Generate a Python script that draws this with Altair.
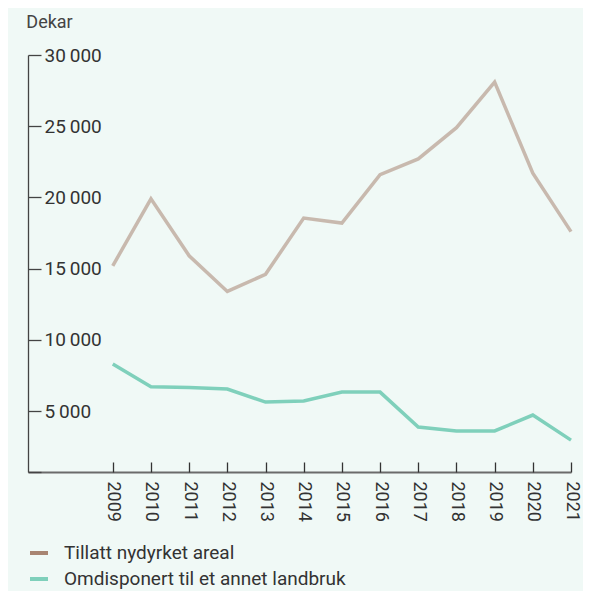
import altair as alt
import pandas as pd

years = list(range(2009, 2022))
tillatt = [15200, 19900, 15900, 13400, 14600, 18550, 18200, 21600, 22700, 24900, 28100, 21700, 17600]
omdisponert = [8300, 6700, 6650, 6550, 5630, 5700, 6330, 6330, 3880, 3600, 3600, 4720, 2960]
series_names = ["Tillatt nydyrket areal", "Omdisponert til et annet landbruk"]
legend_colors = ["#a88572", "#7fd0bb"]
y_ticks = [720, 5000, 10000, 15000, 20000, 25000, 30000]

rows = []
for name, vals in zip(series_names, [tillatt, omdisponert]):
    for yr, v in zip(years, vals):
        rows.append({"year": yr, "value": v, "series": name})
df = pd.DataFrame(rows)

W, H = 543, 417
FONT = "Roboto"
TXT = "#333333"

x_scale = alt.Scale(domain=[2006.78, 2021], nice=False, zero=False)
y_scale = alt.Scale(domain=[720, 30000], nice=False, zero=False)

y_axis = alt.Axis(
    orient="right", offset=-W, values=y_ticks,
    labelExpr="datum.value < 1000 ? '' : replace(format(datum.value, ','), ',', '\u2009')",
    tickSize=13, tickColor="#444444", tickWidth=1.3,
    domainColor="#444444", domainWidth=1.3,
    labelPadding=3, labelFontSize=19, labelFont=FONT, labelColor=TXT,
    grid=False, title=None,
)

lines = alt.Chart(df).mark_line(strokeWidth=3.5).encode(
    x=alt.X("year:Q", scale=x_scale, axis=alt.Axis(
        orient="bottom", values=years, format="d", ticks=False,
        labelAngle=90, labelAlign="left", labelBaseline="middle", labelPadding=9,
        labelFontSize=18, labelFont=FONT, labelColor=TXT,
        domainColor="#6b6b6b", domainWidth=2, grid=False, title=None)),
    y=alt.Y("value:Q", scale=y_scale, axis=y_axis),
    color=alt.Color("series:N", scale=alt.Scale(domain=series_names, range=legend_colors),
                    legend=alt.Legend(orient="none", legendX=0, legendY=487, title=None,
                                      symbolType="stroke", symbolSize=324, symbolStrokeWidth=4,
                                      symbolOpacity=1,
                                      labelFontSize=19, labelFont=FONT, labelLimit=0,
                                      labelColor=TXT, labelOffset=14, rowPadding=5,
                                      padding=0, direction="vertical")),
    opacity=alt.condition(f"datum.series == '{series_names[0]}'", alt.value(0.55), alt.value(1.0)),
)

ticks_layer = alt.Chart(df).mark_line(opacity=0).encode(
    x=alt.X("year:Q", scale=x_scale, axis=alt.Axis(
        orient="top", offset=-H, values=years, labels=False, domain=False,
        ticks=True, tickSize=10, tickColor="#333333", tickWidth=1.3,
        grid=False, title=None)),
    y=alt.Y("value:Q", scale=y_scale, axis=y_axis),
    detail="series:N",
)

chart = alt.layer(lines, ticks_layer).resolve_axis(x="independent").properties(
    width=W, height=H,
    title=alt.TitleParams("Dekar", anchor="start", fontSize=18, font=FONT,
                          fontWeight="normal", color="#444444", offset=14, dx=-1),
    autosize=alt.AutoSizeParams(type="none"),
    padding={"left": 20, "top": 47, "right": 12, "bottom": 119},
).configure(background="#f0f9f6").configure_view(stroke=None)

chart.save("out.html", embed_options={"renderer": "svg", "actions": False})
